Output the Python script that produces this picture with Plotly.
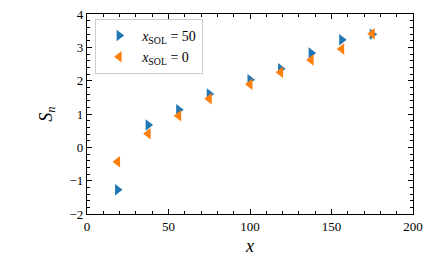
import plotly.graph_objects as go

x_vals = [18.75, 37.5, 56.25, 75, 100, 118.75, 137.5, 156.25, 175]
s_sol50 = [-1.27, 0.67, 1.13, 1.60, 2.03, 2.36, 2.83, 3.23, 3.39]
s_sol0 = [-0.43, 0.41, 0.95, 1.46, 1.89, 2.25, 2.62, 2.95, 3.41]
names = ["<i>x</i><sub>SOL</sub> = 50", "<i>x</i><sub>SOL</sub> = 0"]

FONT = "Liberation Serif, DejaVu Serif, serif"

fig = go.Figure()
fig.add_trace(go.Scatter(x=x_vals, y=s_sol50, mode="markers", name=names[0],
                         marker=dict(symbol="triangle-right", size=10, color="#1f77b4")))
fig.add_trace(go.Scatter(x=x_vals, y=s_sol0, mode="markers", name=names[1],
                         marker=dict(symbol="triangle-left", size=10, color="#ff7f0e")))

axis_common = dict(
    showgrid=False, zeroline=False, showline=True, linecolor="black", linewidth=1.2,
    mirror="allticks", ticks="inside", ticklen=5, tickwidth=1, tickcolor="black",
    tickfont=dict(family=FONT, size=13, color="black"), automargin=False,
)

fig.update_xaxes(range=[0, 200], dtick=50, tick0=0,
                 minor=dict(ticks="inside", dtick=10, ticklen=2.5, tickcolor="black", tickwidth=0.8),
                 title=dict(text="<i>x</i>", font=dict(family=FONT, size=18, color="black"), standoff=6),
                 **axis_common)
fig.update_yaxes(range=[-2, 4], dtick=1, tick0=0,
                 minor=dict(ticks="inside", dtick=0.2, ticklen=2.5, tickcolor="black", tickwidth=0.8),
                 title=dict(text="<i>S<sub>n</sub></i>", font=dict(family=FONT, size=18, color="black"), standoff=12),
                 **axis_common)

fig.update_layout(
    width=435, height=269,
    margin=dict(l=87, r=22, t=14, b=55),
    plot_bgcolor="white", paper_bgcolor="white",
    showlegend=True,
    legend=dict(x=0.025, y=0.975, xanchor="left", yanchor="top",
                bgcolor="rgba(255,255,255,0.8)", bordercolor="#cccccc", borderwidth=1,
                font=dict(family=FONT, size=14, color="black"),
                itemwidth=36, tracegroupgap=0),
)

fig.write_html("out.html", config={"displayModeBar": False},
               post_script="document.body.style.margin='0';document.body.style.overflow='hidden';")
